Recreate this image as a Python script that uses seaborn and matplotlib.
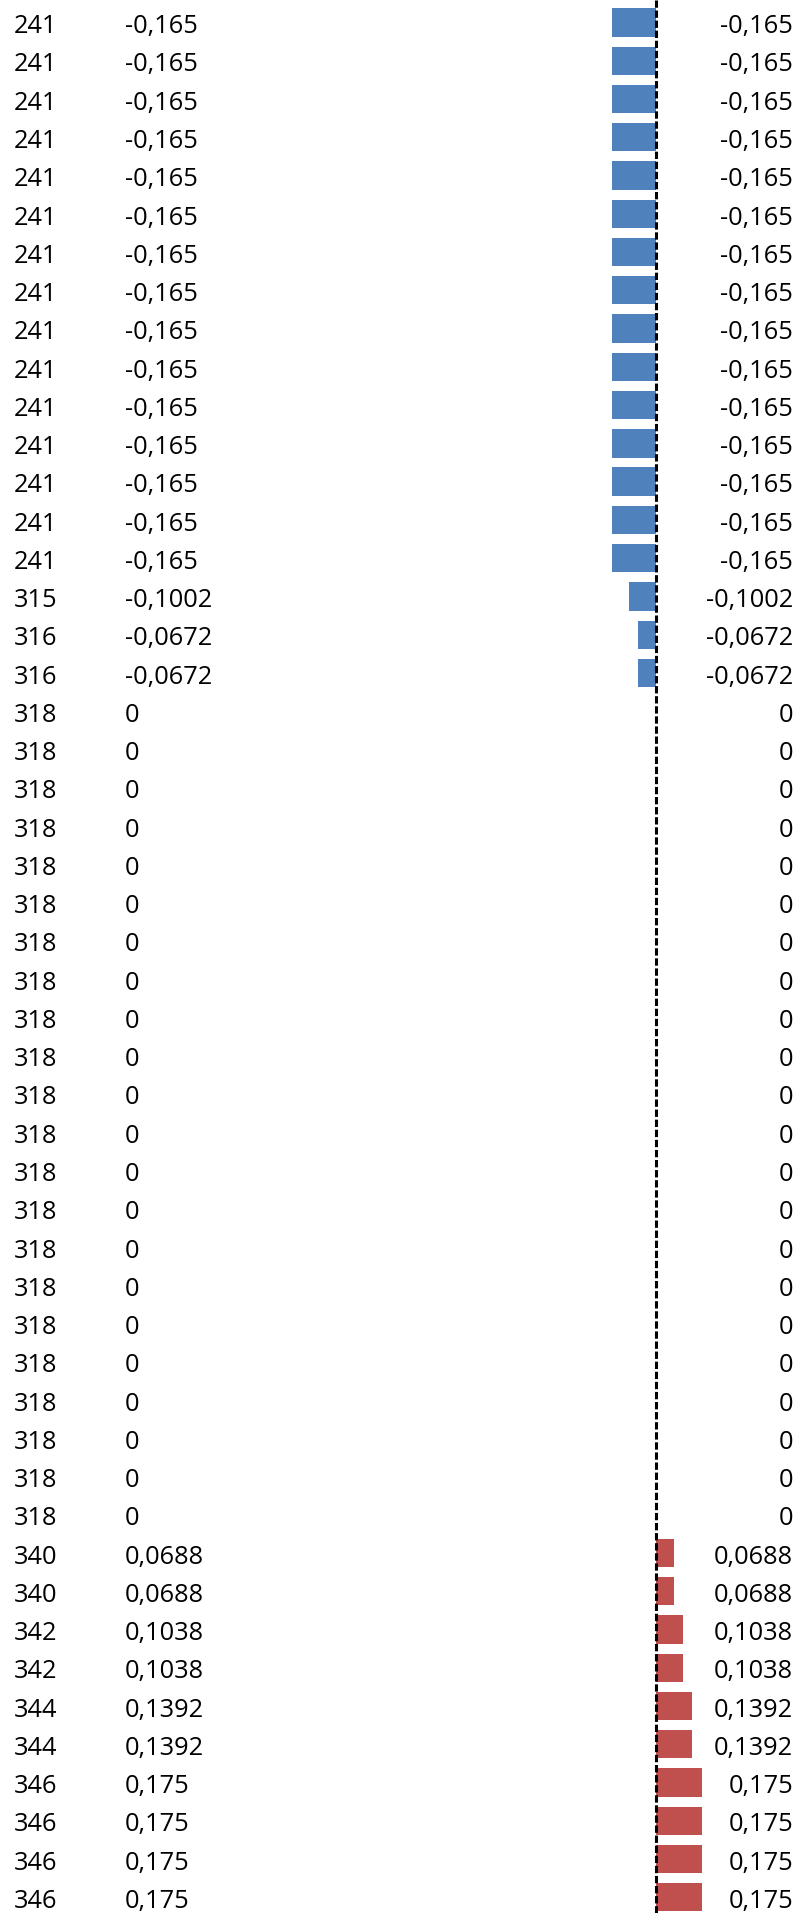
import seaborn as sns
import matplotlib.pyplot as plt
import numpy as np
import pandas as pd

'''
Two-column table with an inline bar column (diverging around zero).
'''

# row ids and values, top to bottom
ids = [241] * 15 + [315, 316, 316] + [318] * 22 + [340, 340, 342, 342, 344, 344, 346, 346, 346, 346]
values = ([-0.165] * 15 + [-0.1002, -0.0672, -0.0672] + [0] * 22
          + [0.0688, 0.0688, 0.1038, 0.1038, 0.1392, 0.1392, 0.175, 0.175, 0.175, 0.175])

blue = '#4F81BD'
red = '#C0504D'

##############################################################################


def fmt(v):
    # decimal comma, like the source sheet
    return ('%g' % v).replace('.', ',')


def draw():
    sns.set_style('white')
    plt.rcParams['font.family'] = ['Open Sans', 'DejaVu Sans']

    n = len(values)
    data = pd.DataFrame({'row': range(n), 'value': values})
    data['sign'] = np.where(data['value'] < 0, 'neg', 'pos')

    figure = plt.figure(figsize=(8, 19.13), dpi=100)
    axes = figure.add_axes([0, 0, 1, 1])
    sns.barplot(data=data, x='value', y='row', hue='sign', orient='h',
                palette={'neg': blue, 'pos': red}, dodge=False, width=0.74,
                saturation=1, linewidth=0, legend=False, ax=axes)

    # zero line
    axes.axvline(0, color='black', lw=2.2, linestyle=(0, (2.4, 0.9)),
                 dash_capstyle='butt', zorder=5)

    # x: zero sits at ~655px of 800
    axes.set_xlim(-2.483, 0.547)
    axes.set_ylim(n - 0.588, -0.588)
    axes.axis('off')

    # text columns
    trans = axes.get_yaxis_transform()
    for i, (row_id, v) in enumerate(zip(ids, values)):
        y = i + 0.28
        axes.text(14 / 800, y, str(row_id), transform=trans, fontsize=18.3,
                  ha='left', va='baseline', color='black')
        axes.text(125 / 800, y, fmt(v), transform=trans, fontsize=18.3,
                  ha='left', va='baseline', color='black')
        axes.text(793 / 800, y, fmt(v), transform=trans, fontsize=18.3,
                  ha='right', va='baseline', color='black')

    figure.savefig('out.png', dpi=100)
    return figure, axes


if __name__ == "__main__":
    draw()
